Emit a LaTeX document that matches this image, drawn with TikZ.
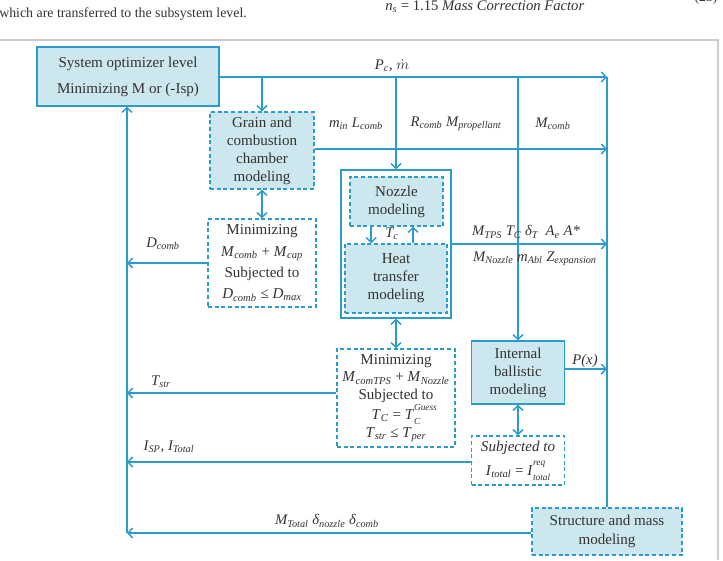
\documentclass[tikz,border=0pt]{standalone}
\usepackage{fontspec}
\setmainfont{Liberation Serif}
\usetikzlibrary{arrows.meta}
\definecolor{lb}{HTML}{2A9BCB}
\definecolor{fillb}{HTML}{CDE7EE}
\definecolor{gr}{HTML}{CCCCCC}
\definecolor{txt}{HTML}{333333}
\newcommand\sbs[1]{\textsubscript{#1}}
\newsavebox\bxSup
\newsavebox\bxSub
\newcommand\supsb[2]{\sbox\bxSup{\fontsize{7}{7}\selectfont #1}\sbox\bxSub{\fontsize{7}{7}\selectfont #2}\rlap{\raisebox{0.62em}{\usebox\bxSup}}\raisebox{-0.32em}{\usebox\bxSub}\ifdim\wd\bxSup>\wd\bxSub\hspace{\dimexpr\wd\bxSup-\wd\bxSub\relax}\fi}
\begin{document}
\begin{tikzpicture}[x=0.75pt,y=-0.75pt,
  font=\fontsize{11.3}{13.5}\selectfont, text=txt,
  line/.style={draw=lb, line width=1.1pt},
  arr/.style={line, -{Straight Barb[length=3.5pt,width=7.5pt]}},
  darr/.style={line, {Straight Barb[length=3.5pt,width=7.5pt]}-{Straight Barb[length=3.5pt,width=7.5pt]}},
  solidbox/.style={draw=lb, line width=1.1pt, fill=fillb, align=center, inner sep=0pt},
  dashbox/.style={solidbox, dash pattern=on 3pt off 2pt},
  wbox/.style={dashbox, fill=white},
  lab/.style={font=\fontsize{11}{13}\selectfont\itshape, inner sep=0pt}]

\useasboundingbox (0,0) rectangle (723,560);

% page context
\node[anchor=west, inner sep=0pt, font=\fontsize{10.4}{12}\selectfont] (ptxt) at (-1,14) {which are transferred to the subsystem level.};
\node[anchor=west, inner sep=0pt, font=\fontsize{11}{12}\selectfont] (eq) at (385,7) {\textit{n}\sbs{\textit{s}} = 1.15 \textit{Mass Correction Factor}};
\node[anchor=south, inner sep=0pt, font=\fontsize{10.3}{12}\selectfont] (eqn) at (706,5) {(23)};
\draw[gr, line width=0.8pt] (0,40) -- (718,40) -- (718,560);

% nodes
\node[solidbox, minimum width=136.5pt, minimum height=44.25pt, font=\fontsize{11.3}{19.5}\selectfont] (sys) at (128,76.5) {System optimizer level\\Minimizing M or (-Isp)};
\node[dashbox, minimum width=78pt, minimum height=57.75pt] (grain) at (262,150.5) {Grain and\\combustion\\chamber\\modeling};
\node[wbox, minimum width=81pt, minimum height=66pt, font=\fontsize{11.3}{16}\selectfont] (min1) at (262,263) {Minimizing\\\textit{M}\sbs{\textit{comb}} + \textit{M}\sbs{\textit{cap}}\\Subjected to\\\textit{D}\sbs{\textit{comb}} ≤ \textit{D}\sbs{\textit{max}}};
\node[draw=lb, line width=1.1pt, minimum width=82.5pt, minimum height=111pt, inner sep=0pt] (outer) at (396,244) {};
\node[dashbox, minimum width=69.75pt, minimum height=36.75pt] (nozzle) at (396.5,201.5) {Nozzle\\modeling};
\node[dashbox, minimum width=76.5pt, minimum height=51.75pt] (heat) at (396,278.5) {Heat\\transfer\\modeling};
\node[wbox, minimum width=88.5pt, minimum height=73.5pt, font=\fontsize{11.3}{13.3}\selectfont] (min2) at (396,398) {Minimizing\\\textit{M}\sbs{\textit{comTPS}} + \textit{M}\sbs{\textit{Nozzle}}\\Subjected to\\\textit{T}\sbs{\textit{C}} = \textit{T}\supsb{\textit{Guess}}{\textit{C}}\\\textit{T}\sbs{\textit{str}} ≤ \textit{T}\sbs{\textit{per}}};
\node[solidbox, minimum width=69.75pt, minimum height=47.25pt] (ib) at (518,372.5) {Internal\\ballistic\\modeling};
\node[wbox, minimum width=69.75pt, minimum height=36.75pt, font=\fontsize{11.3}{18}\selectfont] (subj) at (518,460.5) {\textit{Subjected to}\\\textit{I}\sbs{\textit{total}} = \textit{I}\supsb{\textit{req}}{\textit{total}}};
\node[dashbox, minimum width=112.5pt, minimum height=35.25pt, font=\fontsize{11.3}{14.2}\selectfont] (struct) at (607,531.5) {Structure and mass\\modeling};

% bus coordinates
\coordinate (bus1) at (607,77);
\coordinate (bus2) at (607,149);
\coordinate (bus3) at (607,244);
\coordinate (bus4) at (607,369);
\coordinate (lb2) at (127,393);
\coordinate (lb3) at (127,462);
\coordinate (lb4) at (127,533);

% right side connectors
\draw[arr] (sys.east |- bus1) -- (bus1);
\draw[arr] (grain.north |- bus1) -- (grain.north);
\draw[arr] (grain.east |- bus2) -- (bus2);
\draw[arr] (outer.north |- bus1) -- (outer.north);
\draw[arr] (ib.north |- bus1) -- (ib.north);
\draw[line] (bus1) -- (struct.north);
\draw[arr] (outer.east |- bus3) -- (bus3);
\draw[arr] (ib.east |- bus4) -- (bus4);

% double arrows
\draw[darr] (grain.south) -- (min1.north);
\draw[darr] (outer.south) -- (min2.north);
\draw[darr] (ib.south) -- (subj.north);
\draw[arr] ([xshift=-19pt]nozzle.south) -- ([xshift=-19pt]nozzle.south |- heat.north);
\draw[arr] ([xshift=12.4pt]nozzle.south |- heat.north) -- ([xshift=12.4pt]nozzle.south);

% left side connectors
\draw[arr] (min1.west) -- (min1.west -| lb4);
\draw[arr] (min2.west |- lb2) -- (lb2);
\draw[arr] (subj.west |- lb3) -- (lb3);
\draw[arr] (struct.west |- lb4) -- (lb4);
\draw[arr] (lb4) -- (sys.south -| lb4);

% labels
\node[lab] (l1) at (392,66) {P\sbs{c}, $\dot{m}$};
\node[lab] (l2) at (356,124) {m\sbs{in} L\sbs{comb}};
\node[lab] (l3) at (456,124) {R\sbs{comb} M\sbs{propellant}};
\node[lab] (l4) at (553,124) {M\sbs{comb}};
\node[lab] (l5) at (526,232) {M\sbs{TPS} T\sbs{C} δ\sbs{T}\ \ A\sbs{e} A*};
\node[lab] (l6) at (535,259) {M\sbs{Nozzle} m\sbs{Abl} Z\sbs{expansion}};
\node[lab] (l7) at (585,361) {P(x)};
\node[lab] (l8) at (163,244) {D\sbs{comb}};
\node[lab] (l9) at (161,382) {T\sbs{str}};
\node[lab] (l10) at (169,447) {I\sbs{SP}, I\sbs{Total}};
\node[lab] (l11) at (327,521) {M\sbs{Total} δ\sbs{nozzle} δ\sbs{comb}};
\node[lab] (l12) at (392,234) {T\sbs{c}};
\end{tikzpicture}
\end{document}
